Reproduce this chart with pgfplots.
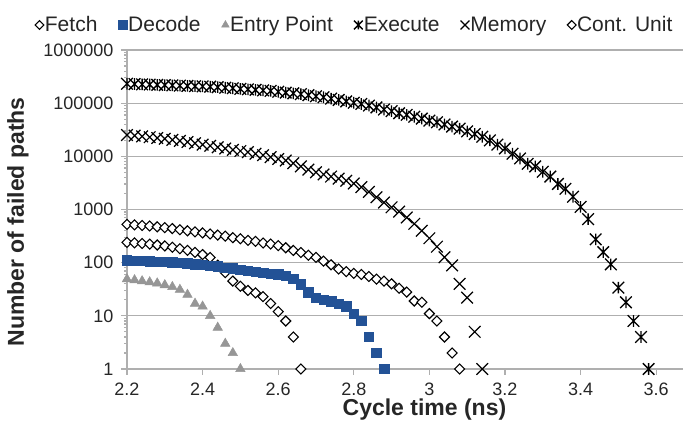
\documentclass[border=0pt]{standalone}
\usepackage{fontspec}
\setmainfont{Liberation Sans}
\usepackage{pgfplots}
\pgfplotsset{compat=1.18}
\definecolor{decode}{RGB}{35,82,150}
\definecolor{entry}{RGB}{150,150,150}
\definecolor{gridc}{RGB}{175,175,175}
\pgfdeclareplotmark{rdiamond}{%
  \pgfpathmoveto{\pgfqpoint{0pt}{\pgfplotmarksize}}%
  \pgfpathlineto{\pgfqpoint{\pgfplotmarksize}{0pt}}%
  \pgfpathlineto{\pgfqpoint{0pt}{-\pgfplotmarksize}}%
  \pgfpathlineto{\pgfqpoint{-\pgfplotmarksize}{0pt}}%
  \pgfpathclose\pgfusepathqfillstroke}
\pgfdeclareplotmark{xx}{%
  \pgfpathmoveto{\pgfqpoint{-\pgfplotmarksize}{-\pgfplotmarksize}}%
  \pgfpathlineto{\pgfqpoint{\pgfplotmarksize}{\pgfplotmarksize}}%
  \pgfpathmoveto{\pgfqpoint{-\pgfplotmarksize}{\pgfplotmarksize}}%
  \pgfpathlineto{\pgfqpoint{\pgfplotmarksize}{-\pgfplotmarksize}}%
  \pgfusepathqstroke}
\pgfdeclareplotmark{xstar}{%
  \pgfpathmoveto{\pgfqpoint{-\pgfplotmarksize}{-\pgfplotmarksize}}%
  \pgfpathlineto{\pgfqpoint{\pgfplotmarksize}{\pgfplotmarksize}}%
  \pgfpathmoveto{\pgfqpoint{-\pgfplotmarksize}{\pgfplotmarksize}}%
  \pgfpathlineto{\pgfqpoint{\pgfplotmarksize}{-\pgfplotmarksize}}%
  \pgfpathmoveto{\pgfqpoint{0pt}{-\pgfplotmarksize}}%
  \pgfpathlineto{\pgfqpoint{0pt}{\pgfplotmarksize}}%
  \pgfusepathqstroke}
\begin{document}
\begin{tikzpicture}
\useasboundingbox (-127pt,-67pt) rectangle (556pt,369pt);
\begin{axis}[
  at={(0pt,0pt)}, anchor=south west,
  scale only axis, width=556pt, height=319pt,
  clip=false,
  xmin=2.2, xmax=3.671,
  ymode=log, ymin=1, ymax=1000000,
  axis lines=left,
  axis line style={gridc, line width=1.3pt, -},
  xtick={2.2,2.4,2.6,2.8,3.0,3.2,3.4,3.6},
  xticklabels={2.2,2.4,2.6,2.8,3,3.2,3.4,3.6},
  ytick={1,10,100,1000,10000,100000,1000000},
  yticklabels={1,10,100,1000,10000,100000,1000000},
  minor tick num=0,
  tick align=outside,
  major tick length=6pt,
  tick style={gridc, line width=1.3pt},
  ymajorgrids,
  grid style={gridc, line width=1.3pt},
  tick label style={font=\fontsize{18}{20}\selectfont, text=black!85},
  xticklabel style={yshift=-4pt},
  yticklabel style={xshift=-4pt},
  xlabel={Cycle time (ns)},
  ylabel={Number of failed paths},
  xlabel style={font=\bfseries\fontsize{23}{25}\selectfont, text=black!85, at={(axis description cs:0.535,-0.1285)}, anchor=center},
  ylabel style={font=\bfseries\fontsize{23}{25}\selectfont, text=black!85, at={(axis description cs:-0.196,0.461)}, anchor=center},
  legend columns=6,
  legend style={at={(axis description cs:-0.171,1.0784)}, anchor=west, draw=none, fill=none,
    font=\fontsize{21}{23}\selectfont, text=black!85,
    /tikz/every even column/.append style={column sep=20pt},
    nodes={inner sep=1pt}},
  legend image code/.code={\draw[#1, mark size=4.4pt] plot coordinates {(4.5pt,0pt)};},
]
\addplot[only marks, mark=rdiamond, mark size=5pt, mark options={draw=black, fill=white, line width=1.1pt}]
coordinates {(2.20,240)(2.22,236)(2.24,230)(2.26,223)(2.28,215)(2.30,206)(2.32,195)(2.34,183)(2.36,170)(2.38,156)(2.40,142)(2.42,125)(2.44,90)(2.46,65)(2.48,45)(2.50,36)(2.52,30)(2.54,27)(2.56,23)(2.58,17)(2.60,12)(2.62,8)(2.64,4)(2.66,1)};
\addlegendentry{Fetch}
\addplot[only marks, mark=square*, mark size=4.75pt, mark options={draw=decode, fill=decode, line width=0.5pt}]
coordinates {(2.20,110)(2.22,109)(2.24,108)(2.26,107)(2.28,105)(2.30,104)(2.32,102)(2.34,100)(2.36,97)(2.38,94)(2.40,91)(2.42,88)(2.44,85)(2.46,81)(2.48,78)(2.50,74)(2.52,71)(2.54,68)(2.56,65)(2.58,62)(2.60,60)(2.62,57)(2.64,50)(2.66,39)(2.68,28)(2.70,22)(2.72,20)(2.74,19)(2.76,17)(2.78,15)(2.80,11)(2.82,8)(2.84,4)(2.86,2)(2.88,1)};
\addlegendentry{Decode}
\addplot[only marks, mark=triangle*, mark size=5.5pt, mark options={draw=entry, fill=entry, line width=0.5pt}]
coordinates {(2.20,49)(2.22,47)(2.24,45)(2.26,43)(2.28,41)(2.30,38)(2.32,35)(2.34,31)(2.36,25)(2.38,17)(2.40,15)(2.42,10)(2.44,6)(2.46,3)(2.48,2)(2.50,1)};
\addlegendentry{Entry Point}
\addplot[only marks, mark=xstar, mark size=5.8pt, mark options={draw=black, line width=1.3pt}]
coordinates {(2.20,232000)(2.22,229000)(2.24,226000)(2.26,224000)(2.28,221000)(2.30,219000)(2.32,216000)(2.34,214000)(2.36,211000)(2.38,209000)(2.40,207000)(2.42,204000)(2.44,200000)(2.46,195000)(2.48,191000)(2.50,186000)(2.52,182000)(2.54,178000)(2.56,174000)(2.58,170000)(2.60,164000)(2.62,158000)(2.64,153000)(2.66,148000)(2.68,141000)(2.70,135000)(2.72,129000)(2.74,122000)(2.76,115000)(2.78,108000)(2.80,102000)(2.82,96600)(2.84,90200)(2.86,83200)(2.88,75900)(2.90,70800)(2.92,64600)(2.94,60300)(2.96,55600)(2.98,51300)(3.00,46800)(3.02,43700)(3.04,39800)(3.06,36300)(3.08,33100)(3.10,29500)(3.12,26300)(3.14,23400)(3.16,20000)(3.18,16600)(3.20,14100)(3.22,11200)(3.24,9120)(3.26,7240)(3.28,6460)(3.30,5130)(3.32,4170)(3.34,3020)(3.36,2450)(3.38,1740)(3.40,1120)(3.42,660)(3.44,275)(3.46,158)(3.48,93)(3.50,34)(3.52,18)(3.54,8)(3.56,4)(3.58,1)};
\addlegendentry{Execute}
\addplot[only marks, mark=xx, mark size=5.8pt, mark options={draw=black, line width=1.2pt}]
coordinates {(2.20,25100)(2.22,24500)(2.24,23700)(2.26,22900)(2.28,22100)(2.30,21400)(2.32,20400)(2.34,19500)(2.36,18600)(2.38,17600)(2.40,16600)(2.42,15800)(2.44,14800)(2.46,14000)(2.48,13200)(2.50,12600)(2.52,12000)(2.54,11200)(2.56,10500)(2.58,9660)(2.60,8910)(2.62,8320)(2.64,7410)(2.66,6460)(2.68,5620)(2.70,5010)(2.72,4570)(2.74,4170)(2.76,3800)(2.78,3470)(2.80,3090)(2.82,2630)(2.84,2140)(2.86,1700)(2.88,1350)(2.90,1100)(2.92,912)(2.94,708)(2.96,537)(2.98,398)(3.00,288)(3.02,200)(3.04,126)(3.06,89)(3.08,40)(3.10,22)(3.12,5)(3.14,1)};
\addlegendentry{Memory}
\addplot[only marks, mark=rdiamond, mark size=5pt, mark options={draw=black, fill=white, line width=1.1pt}]
coordinates {(2.20,525)(2.22,513)(2.24,501)(2.26,490)(2.28,473)(2.30,457)(2.32,437)(2.34,417)(2.36,398)(2.38,380)(2.40,363)(2.42,347)(2.44,331)(2.46,316)(2.48,295)(2.50,282)(2.52,263)(2.54,251)(2.56,234)(2.58,224)(2.60,209)(2.62,191)(2.64,170)(2.66,155)(2.68,138)(2.70,126)(2.72,107)(2.74,91)(2.76,76)(2.78,68)(2.80,63)(2.82,60)(2.84,55)(2.86,49)(2.88,45)(2.90,40)(2.92,33)(2.94,28)(2.96,19)(2.98,18)(3.00,11)(3.02,8)(3.04,4)(3.06,2)(3.08,1)};
\addlegendentry{Cont. Unit}
\end{axis}
\end{tikzpicture}
\end{document}
